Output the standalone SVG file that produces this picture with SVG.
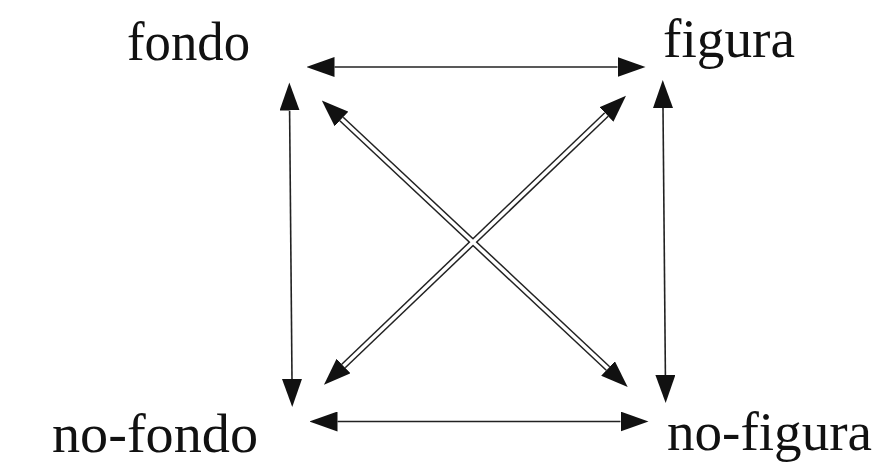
<svg xmlns="http://www.w3.org/2000/svg" width="882" height="464" viewBox="0 0 882 464">
<style>
.lbl{font-family:"Liberation Serif","Times New Roman",serif;font-size:54px;fill:#111}
.thin{stroke:#222;stroke-width:1.6;fill:none}
.dbl{stroke:#222;stroke-width:6.5;fill:none}
.dblw{stroke:#fff;stroke-width:3.5;fill:none}
</style>
<defs>
<marker id="ah" markerUnits="userSpaceOnUse" markerWidth="28" markerHeight="20" viewBox="0 0 28 20" refX="0" refY="10" orient="auto-start-reverse">
<path d="M0,0 L28,10 L0,20 z" fill="#111"/>
</marker>
<marker id="ahd" markerUnits="userSpaceOnUse" markerWidth="27" markerHeight="20" viewBox="0 0 27 20" refX="0" refY="10" orient="auto-start-reverse">
<path d="M0,0 L27,10 L0,20 z" fill="#111"/>
</marker>
</defs>
<rect width="882" height="464" fill="#fff"/>
<g id="connectors">
<line class="thin" x1="334.5" y1="67" x2="617.5" y2="67" marker-start="url(#ah)" marker-end="url(#ah)"/>
<line class="thin" x1="337.5" y1="421.5" x2="620.5" y2="421.5" marker-start="url(#ah)" marker-end="url(#ah)"/>
<line class="thin" x1="289.6" y1="110.5" x2="292" y2="379" marker-start="url(#ah)" marker-end="url(#ah)"/>
<line class="thin" x1="663" y1="108" x2="665.4" y2="375" marker-start="url(#ah)" marker-end="url(#ah)"/>
<line class="dbl" x1="341.5" y1="119" x2="608" y2="368.5" marker-start="url(#ahd)" marker-end="url(#ahd)"/>
<line class="dbl" x1="343.5" y1="366" x2="606.5" y2="114.5" marker-start="url(#ahd)" marker-end="url(#ahd)"/>
<line class="dblw" x1="341.5" y1="119" x2="608" y2="368.5"/>
<line class="dblw" x1="343.5" y1="366" x2="606.5" y2="114.5"/>
</g>
<g id="fondo"><text class="lbl" x="127" y="60" textLength="123" lengthAdjust="spacingAndGlyphs">fondo</text></g>
<g id="figura"><text class="lbl" x="663" y="57" textLength="132" lengthAdjust="spacingAndGlyphs">figura</text></g>
<g id="no-fondo"><text class="lbl" x="52" y="452" textLength="206" lengthAdjust="spacingAndGlyphs">no-fondo</text></g>
<g id="no-figura"><text class="lbl" x="667" y="450" textLength="205" lengthAdjust="spacingAndGlyphs">no-figura</text></g>
</svg>
